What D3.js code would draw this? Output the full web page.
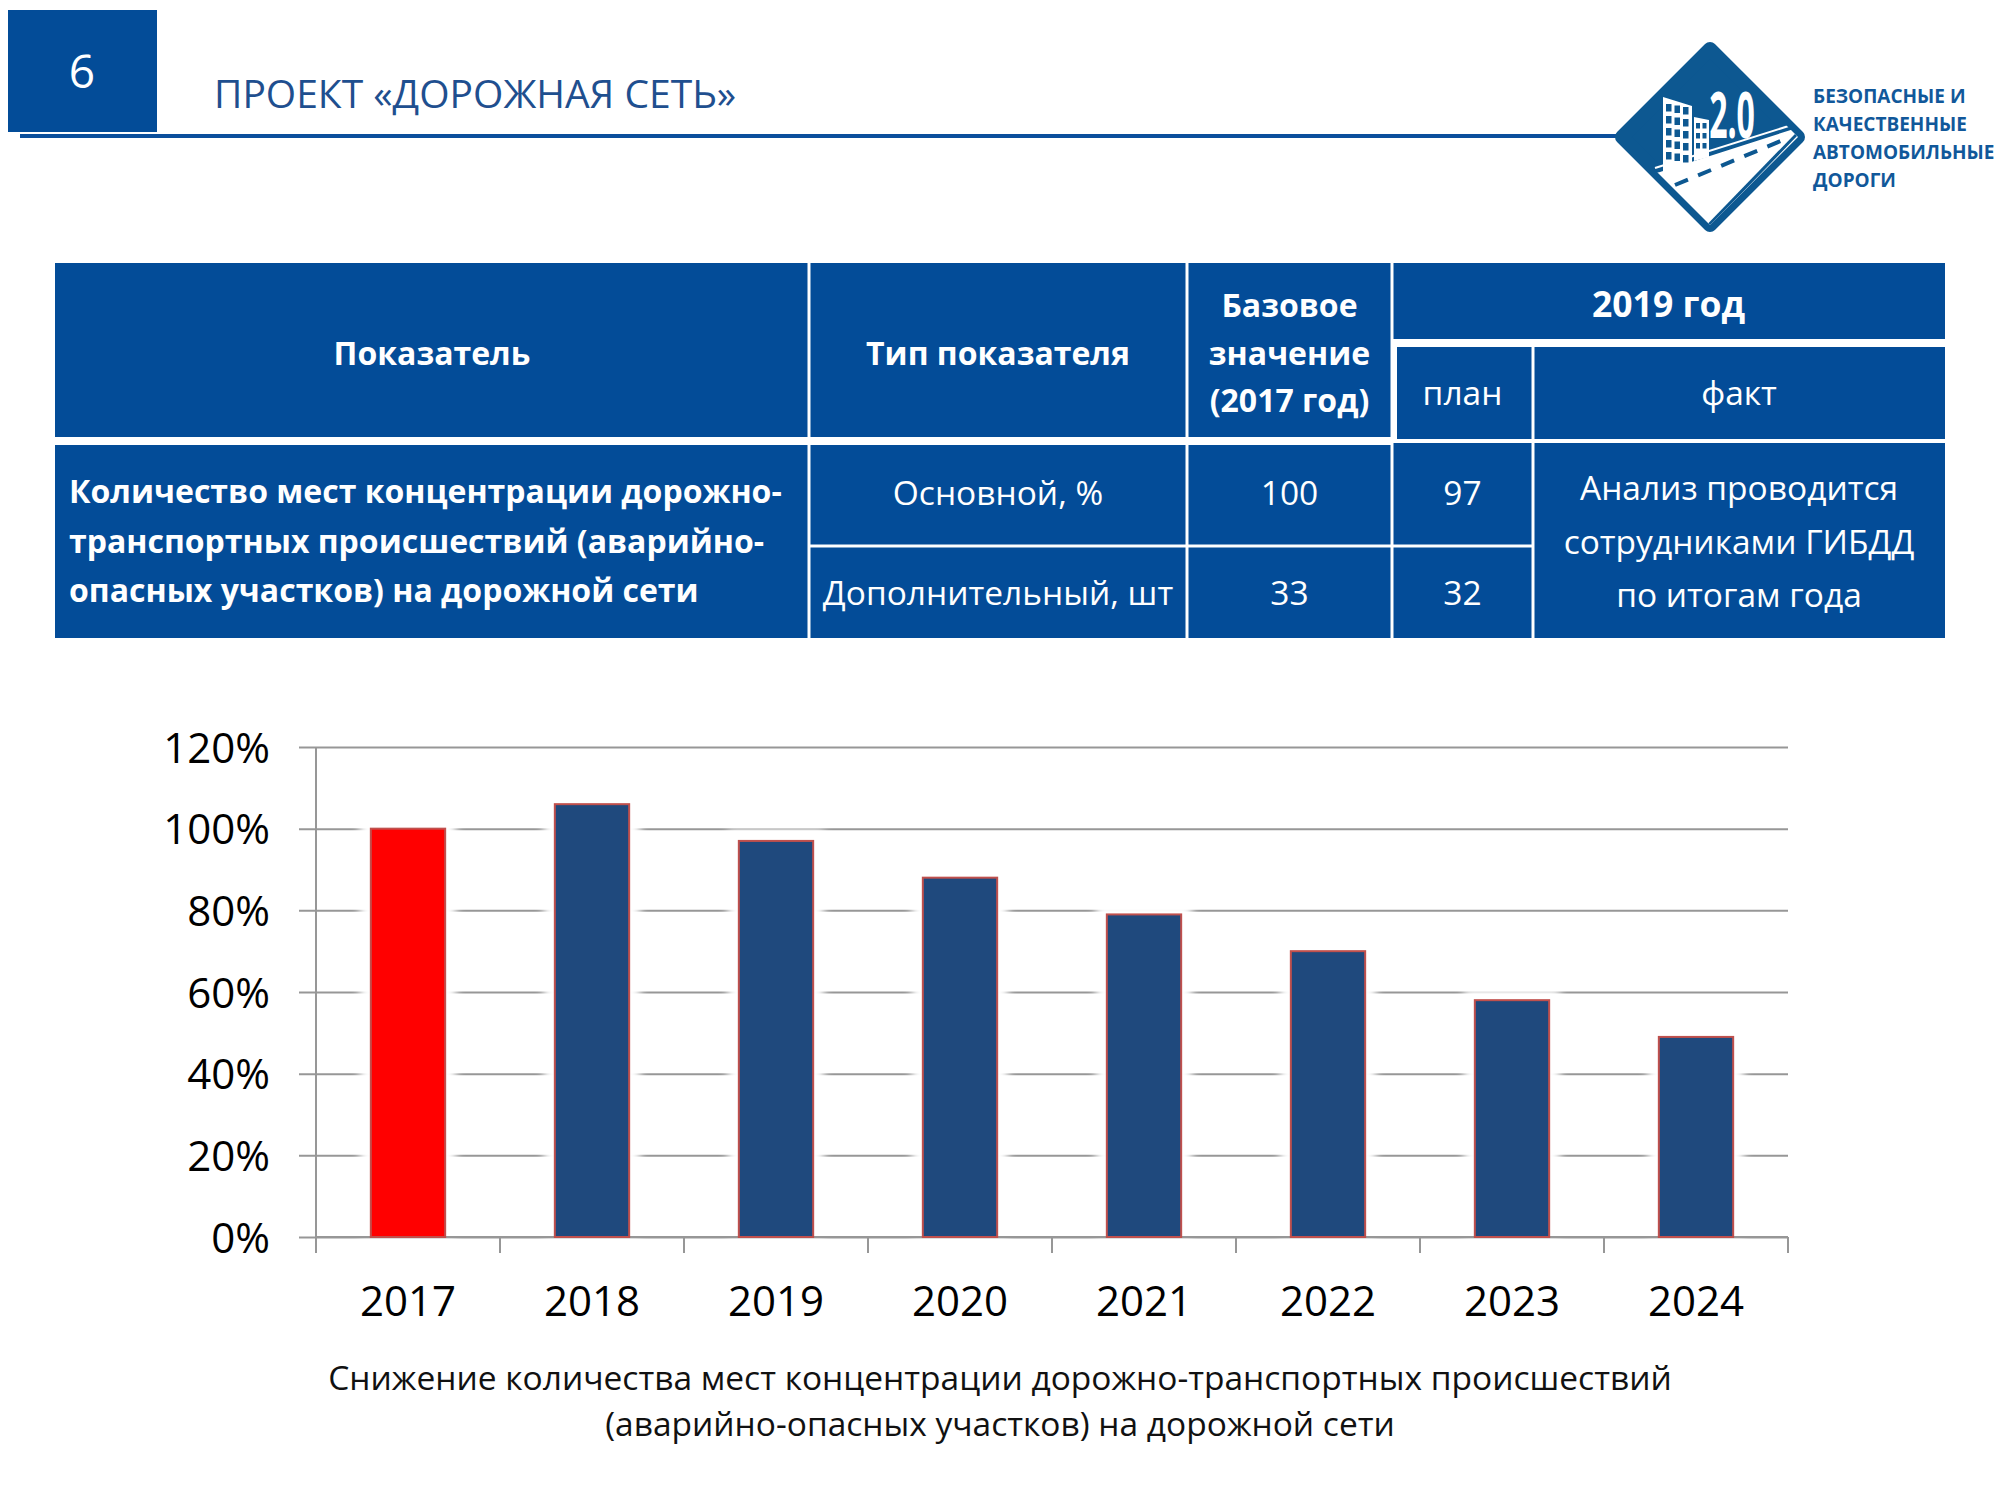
<!DOCTYPE html>
<html lang="ru">
<head>
<meta charset="utf-8">
<script src="https://cdn.jsdelivr.net/npm/d3@7"></script>
<style>
  html, body { margin: 0; padding: 0; background: #fff; }
  svg { display: block; font-family: "Open Sans", "Noto Sans", sans-serif; }
</style>
</head>
<body>
<svg id="chart" width="2000" height="1500"></svg>
<script>
// ---------- data ----------
const years = ["2017", "2018", "2019", "2020", "2021", "2022", "2023", "2024"];
const values = [100, 106, 97, 88, 79, 70, 58, 49];
const yTicks = [0, 20, 40, 60, 80, 100, 120];
const slideNumber = "6";
const slideTitle = "ПРОЕКТ «ДОРОЖНАЯ СЕТЬ»";
const logoLines = ["БЕЗОПАСНЫЕ И", "КАЧЕСТВЕННЫЕ", "АВТОМОБИЛЬНЫЕ", "ДОРОГИ"];
const captionLines = [
  "Снижение количества мест концентрации дорожно-транспортных происшествий",
  "(аварийно-опасных участков) на дорожной сети"
];
const headIndicator = "Показатель";
const headType = "Тип показателя";
const headBase = ["Базовое", "значение", "(2017 год)"];
const headYear = "2019 год";
const headPlan = "план";
const headFact = "факт";
const indicatorLines = ["Количество мест концентрации дорожно-", "транспортных происшествий (аварийно-", "опасных участков) на дорожной сети"];
const rowTypes = ["Основной, %", "Дополнительный, шт"];
const rowBase = ["100", "33"];
const rowPlan = ["97", "32"];
const factLines = ["Анализ проводится", "сотрудниками ГИБДД", "по итогам года"];

// ---------- styles ----------
const BLUE = "#034c98";
const BAR_BLUE = "#1f497d";
const BAR_RED = "#ff0000";
const BAR_STROKE = "#c0504d";
const GRID = "#979797";

const svg = d3.select("#chart");
const defs = svg.append("defs");
defs.append("filter").attr("id", "glow")
  .attr("x", "-50%").attr("y", "-20%").attr("width", "200%").attr("height", "140%")
  .append("feGaussianBlur").attr("stdDeviation", 4);

// ---------- header ----------
svg.append("rect").attr("x", 8).attr("y", 10).attr("width", 149).attr("height", 122).attr("fill", BLUE);
svg.append("text").attr("x", 82).attr("y", 88).attr("text-anchor", "middle")
  .attr("font-size", 46).attr("fill", "#fff").text(slideNumber);
svg.append("text").attr("x", 214).attr("y", 108).attr("font-size", 39)
  .attr("fill", "#1f4f8f").text(slideTitle);
svg.append("rect").attr("x", 20).attr("y", 134).attr("width", 1600).attr("height", 4).attr("fill", "#0b4f9c");

// ---------- logo ----------
const LOGO = "#0d5891";
const logo = svg.append("g");
const cx = 1710, cy = 137, r = 88;
const diamondPath = `M${cx},${cy - r} L${cx + r},${cy} L${cx},${cy + r} L${cx - r},${cy} Z`;
defs.append("clipPath").attr("id", "dclip").append("path").attr("d", diamondPath);
logo.append("path").attr("d", diamondPath).attr("fill", LOGO)
  .attr("stroke", LOGO).attr("stroke-width", 14).attr("stroke-linejoin", "round");
const inner = logo.append("g").attr("clip-path", "url(#dclip)");
// road
inner.append("polygon").attr("points", "1600,186 1660,172 1797,128 1804,131 1706,240 1600,240").attr("fill", "#fff");
inner.append("line").attr("x1", 1655).attr("y1", 168).attr("x2", 1795).attr("y2", 124)
  .attr("stroke", "#fff").attr("stroke-width", 2);
inner.append("line").attr("x1", 1675).attr("y1", 185).attr("x2", 1788).attr("y2", 138)
  .attr("stroke", LOGO).attr("stroke-width", 4).attr("stroke-dasharray", "14 11");
inner.append("line").attr("x1", 1797).attr("y1", 134).attr("x2", 1700).attr("y2", 234)
  .attr("stroke", LOGO).attr("stroke-width", 3);
// buildings
logo.append("polygon").attr("points", "1663,97 1692,106 1692,165 1663,172").attr("fill", "#fff");
logo.append("polygon").attr("points", "1694,117 1709,120 1709,157 1694,161").attr("fill", "#fff");
const winG = logo.append("g").attr("fill", LOGO);
for (let rr = 0; rr < 5; rr++) {
  for (let c = 0; c < 3; c++) {
    winG.append("rect").attr("x", 1666 + c * 8.5).attr("y", 104 + rr * 12 + c * 1.5).attr("width", 5.5).attr("height", 7.5);
  }
}
for (let rr = 0; rr < 3; rr++) {
  for (let c = 0; c < 2; c++) {
    winG.append("rect").attr("x", 1696 + c * 6.5).attr("y", 123 + rr * 10).attr("width", 4).attr("height", 5.5);
  }
}
logo.append("text").attr("x", 1732).attr("y", 138).attr("text-anchor", "middle")
  .attr("font-size", 64).attr("font-weight", 700).attr("fill", "#fff")
  .attr("transform", "translate(1732,0) scale(0.5,1) translate(-1732,0)")
  .text("2.0");
logo.selectAll("text.lt").data(logoLines).join("text").attr("class", "lt")
  .attr("x", 1813).attr("y", (d, i) => 103 + i * 28)
  .attr("font-size", 19).attr("font-weight", 700).attr("fill", "#11589a").text(d => d);

// ---------- table ----------
const cols = [55, 809, 1187, 1392, 1533, 1945];
const tbl = svg.append("g");
function cell(x0, y0, x1, y1) {
  tbl.append("rect").attr("x", x0).attr("y", y0).attr("width", x1 - x0).attr("height", y1 - y0).attr("fill", BLUE);
}
const hTop = 263, hMid = 339, hMid2 = 347, hBot = 437, bTop = 445, bMid = 546, bBot = 638;
const g = 1.5; // half thin gap
// header cells
cell(cols[0], hTop, cols[1] - g, hBot);
cell(cols[1] + g, hTop, cols[2] - g, hBot);
cell(cols[2] + g, hTop, cols[3] - g, hBot);
cell(cols[3] + g, hTop, cols[5], hMid);
cell(cols[3] + 5, hMid2, cols[4] - g, hBot + 2);
cell(cols[4] + g, hMid2, cols[5], hBot + 2);
// body cells
cell(cols[0], bTop, cols[1] - g, bBot);
cell(cols[1] + g, bTop, cols[2] - g, bMid - g);
cell(cols[1] + g, bMid + g, cols[2] - g, bBot);
cell(cols[2] + g, bTop, cols[3] - g, bMid - g);
cell(cols[2] + g, bMid + g, cols[3] - g, bBot);
cell(cols[3] + g, bTop - 2, cols[4] - g, bMid - g);
cell(cols[3] + g, bMid + g, cols[4] - g, bBot);
cell(cols[4] + g, bTop - 2, cols[5], bBot);

function txt(x, y, s, opts = {}) {
  tbl.append("text").attr("x", x).attr("y", y)
    .attr("text-anchor", opts.anchor || "middle")
    .attr("font-size", opts.size || 33.5)
    .attr("font-weight", opts.bold ? 700 : 400)
    .attr("fill", "#fff").text(s);
}
const mid = (a, b) => (a + b) / 2;
txt(mid(cols[0], cols[1]), 365, headIndicator, { bold: true, size: 32 });
txt(mid(cols[1], cols[2]), 365, headType, { bold: true, size: 32 });
headBase.forEach((s, i) => txt(mid(cols[2], cols[3]), 317 + i * 47.5, s, { bold: true, size: 32 }));
txt(mid(cols[3], cols[5]), 317, headYear, { bold: true, size: 35.5 });
txt(mid(cols[3], cols[4]), 405, headPlan);
txt(mid(cols[4], cols[5]), 405, headFact);
indicatorLines.forEach((s, i) => txt(69, 503 + i * 49.5, s, { bold: true, anchor: "start", size: 32 }));
rowTypes.forEach((s, i) => txt(mid(cols[1], cols[2]), 505 + i * 100, s));
rowBase.forEach((s, i) => txt(mid(cols[2], cols[3]), 505 + i * 100, s));
rowPlan.forEach((s, i) => txt(mid(cols[3], cols[4]), 505 + i * 100, s));
factLines.forEach((s, i) => txt(mid(cols[4], cols[5]), 500 + i * 53.5, s));

// ---------- chart ----------
const X0 = 316, X1 = 1788, Y0 = 1237, Y1 = 747;
const x = d3.scaleBand().domain(years).range([X0, X1]).paddingInner(0.596).paddingOuter(0.298);
const xb = d3.scaleBand().domain(years).range([X0, X1]).padding(0);
const y = d3.scaleLinear().domain([0, 120]).range([Y0, Y1]);

const chart = svg.append("g");
// y axis with gridlines
const yAxis = chart.append("g").attr("transform", `translate(${X0},0)`)
  .call(d3.axisLeft(y).tickValues(yTicks).tickFormat(d => d + "%").tickSizeOuter(0));
yAxis.select(".domain").remove();
yAxis.selectAll(".tick line").attr("x1", -17).attr("x2", X1 - X0).attr("stroke", GRID).attr("stroke-width", 2);
yAxis.selectAll(".tick text").attr("x", -46).attr("dy", "0.36em")
  .attr("font-size", 42).attr("font-family", "'Open Sans', sans-serif").attr("fill", "#000");

// glow behind bars
chart.append("g").selectAll("rect").data(years).join("rect")
  .attr("x", d => x(d) - 11)
  .attr("y", (d, i) => y(values[i]) - 11)
  .attr("width", x.bandwidth() + 22)
  .attr("height", (d, i) => Y0 - y(values[i]) + 11)
  .attr("fill", "#fff").attr("filter", "url(#glow)");

// x axis
const xAxis = chart.append("g").attr("transform", `translate(0,${Y0})`)
  .call(d3.axisBottom(xb).tickSize(0).tickPadding(0));
xAxis.select(".domain").attr("stroke", GRID).attr("stroke-width", 2).attr("d", `M${X0},0H${X1}`);
xAxis.selectAll(".tick text").attr("y", 79).attr("dy", 0)
  .attr("font-size", 42).attr("font-family", "'Open Sans', sans-serif").attr("fill", "#000");
const bounds = years.map(d => xb(d)).concat([X1]);
chart.append("g").selectAll("line").data(bounds).join("line")
  .attr("x1", d => d).attr("x2", d => d).attr("y1", Y0).attr("y2", Y0 + 16)
  .attr("stroke", GRID).attr("stroke-width", 2);
// y axis line
chart.append("line").attr("x1", X0).attr("x2", X0).attr("y1", Y1).attr("y2", Y0 + 16)
  .attr("stroke", GRID).attr("stroke-width", 2);

// bars
chart.append("g").selectAll("rect").data(years).join("rect")
  .attr("x", d => x(d))
  .attr("y", (d, i) => y(values[i]))
  .attr("width", x.bandwidth())
  .attr("height", (d, i) => Y0 - y(values[i]))
  .attr("fill", (d, i) => i === 0 ? BAR_RED : BAR_BLUE)
  .attr("stroke", BAR_STROKE).attr("stroke-width", 2);

// caption
svg.append("g").selectAll("text").data(captionLines).join("text")
  .attr("x", 1000).attr("y", (d, i) => 1390 + i * 46)
  .attr("text-anchor", "middle").attr("font-size", 33.5).attr("fill", "#111")
  .text(d => d);
</script>
</body>
</html>
